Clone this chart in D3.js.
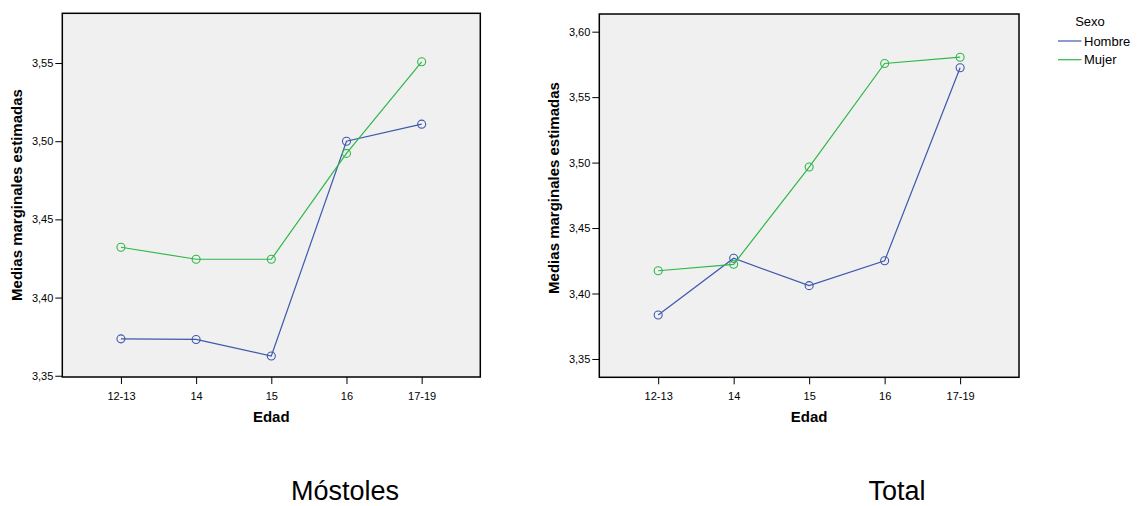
<!DOCTYPE html>
<html><head><meta charset="utf-8">
<script src="https://cdn.jsdelivr.net/npm/d3@7"></script>
<style>
body{margin:0;background:#fff}
svg{display:block}
text{font-family:"Liberation Sans",Arial,Helvetica,sans-serif;fill:#000}
</style>
</head><body>
<svg id="chart" width="1139" height="506"></svg>
<script>
// ---- data ----
const categories = ["12-13", "14", "15", "16", "17-19"];
const seriesNames = ["Hombre", "Mujer"];
const seriesColors = ["#3E58AC", "#2EB848"];

const mostolesHombre = [3.3736, 3.3732, 3.3626, 3.5000, 3.5109];
const mostolesMujer  = [3.4322, 3.4245, 3.4245, 3.4922, 3.5508];
const totalHombre    = [3.3836, 3.4269, 3.4060, 3.4250, 3.5724];
const totalMujer     = [3.4174, 3.4223, 3.4966, 3.5757, 3.5805];

const mostolesTicks = [3.35, 3.40, 3.45, 3.50, 3.55];
const totalTicks    = [3.35, 3.40, 3.45, 3.50, 3.55, 3.60];
const mostolesDomain = [3.3492, 3.5818];
const totalDomain    = [3.3360, 3.6135];

const panelTitles = ["Móstoles", "Total"];
const xTitle = "Edad";
const yTitle = "Medias marginales estimadas";
const legendTitle = "Sexo";

// ---- layout ----
const panels = [
  {series: [mostolesHombre, mostolesMujer], ticks: mostolesTicks, domain: mostolesDomain,
   title: panelTitles[0], left: 62.3, right: 480.3, top: 13.3, bottom: 377,
   titleX: 345, yLabelX: 21.5, yLabelY: 195},
  {series: [totalHombre, totalMujer], ticks: totalTicks, domain: totalDomain,
   title: panelTitles[1], left: 599.3, right: 1019, top: 14, bottom: 377.3,
   titleX: 897, yLabelX: 559, yLabelY: 188}
];

const svg = d3.select("#chart");
const fmt = d => d3.format(".2f")(d).replace(".", ",");

panels.forEach(p => {
  const g = svg.append("g");
  const x = d3.scalePoint().domain(categories).range([p.left, p.right]).padding(0.78);
  const y = d3.scaleLinear().domain(p.domain).range([p.bottom, p.top]);

  g.append("rect").attr("x", p.left).attr("y", p.top)
    .attr("width", p.right - p.left).attr("height", p.bottom - p.top)
    .attr("fill", "#F0F0F0");

  // y axis
  const ya = g.append("g").attr("transform", `translate(${p.left},0)`)
    .call(d3.axisLeft(y).tickValues(p.ticks).tickSize(7).tickPadding(2).tickFormat(fmt));
  ya.select(".domain").remove();
  ya.selectAll("line").attr("stroke", "#000").attr("stroke-width", 1);
  ya.selectAll("text").attr("font-size", 11).attr("font-family", "Liberation Sans, Arial, sans-serif").attr("fill", "#222");

  // x axis
  const xa = g.append("g").attr("transform", `translate(0,${p.bottom})`)
    .call(d3.axisBottom(x).tickSize(7).tickPadding(8));
  xa.select(".domain").remove();
  xa.selectAll("line").attr("stroke", "#000").attr("stroke-width", 1);
  xa.selectAll("text").attr("font-size", 11).attr("font-family", "Liberation Sans, Arial, sans-serif").attr("fill", "#222");

  // lines + markers
  p.series.forEach((vals, si) => {
    const pts = vals.map((v, i) => [x(categories[i]), y(v)]);
    g.append("path").attr("d", d3.line()(pts))
      .attr("fill", "none").attr("stroke", seriesColors[si]).attr("stroke-width", 1.2);
    g.selectAll(null).data(vals).enter().append("circle")
      .attr("cx", (v, i) => x(categories[i])).attr("cy", v => y(v))
      .attr("r", 4).attr("fill", "none")
      .attr("stroke", seriesColors[si]).attr("stroke-width", 1.1);
  });

  // frame
  g.append("rect").attr("x", p.left).attr("y", p.top)
    .attr("width", p.right - p.left).attr("height", p.bottom - p.top)
    .attr("fill", "none").attr("stroke", "#000").attr("stroke-width", 1.5);

  // axis titles
  g.append("text").attr("x", (p.left + p.right) / 2).attr("y", 422)
    .attr("text-anchor", "middle").attr("font-size", 15).attr("font-weight", "bold").text(xTitle);
  g.append("text").attr("transform", `translate(${p.yLabelX},${p.yLabelY}) rotate(-90)`)
    .attr("text-anchor", "middle").attr("font-size", 15).attr("font-weight", "bold").text(yTitle);

  // panel title
  g.append("text").attr("x", p.titleX).attr("y", 499.5)
    .attr("text-anchor", "middle").attr("font-size", 27).text(p.title);
});

// legend
const lg = svg.append("g");
lg.append("text").attr("x", 1090).attr("y", 26).attr("text-anchor", "middle")
  .attr("font-size", 13).text(legendTitle);
seriesNames.forEach((n, i) => {
  const yy = 41 + i * 18.7;
  lg.append("line").attr("x1", 1058).attr("x2", 1081.5).attr("y1", yy).attr("y2", yy)
    .attr("stroke", seriesColors[i]).attr("stroke-width", 1.2);
  lg.append("text").attr("x", 1084).attr("y", yy + 4.6).attr("font-size", 13).text(n);
});
</script>
</body></html>
